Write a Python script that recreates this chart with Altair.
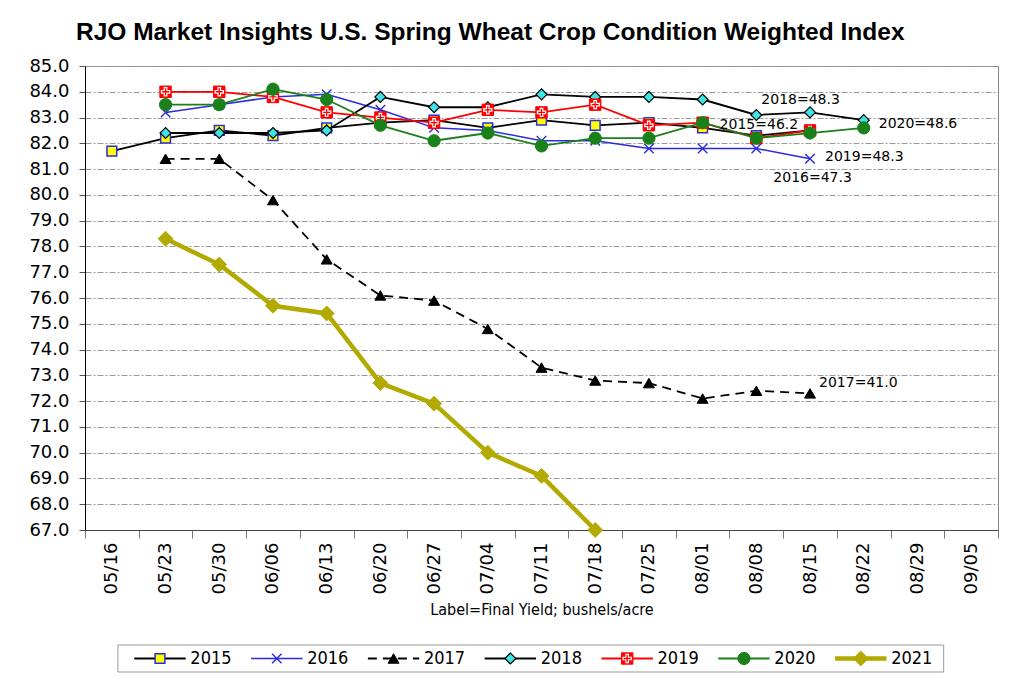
import altair as alt
import pandas as pd

# ---------------- data ----------------
dates = ["05/16", "05/23", "05/30", "06/06", "06/13", "06/20", "06/27", "07/04",
         "07/11", "07/18", "07/25", "08/01", "08/08", "08/15", "08/22", "08/29", "09/05"]

series_names = ["2015", "2016", "2017", "2018", "2019", "2020", "2021"]

y2015 = [81.7, 82.2, 82.5, 82.3, 82.6, 82.8, 82.9, 82.6, 82.9, 82.7, 82.8, 82.6, 82.3, 82.5]
y2016 = [None, 83.2, 83.5, 83.8, 83.9, 83.3, 82.6, 82.5, 82.1, 82.1, 81.8, 81.8, 81.8, 81.4]
y2017 = [None, 81.4, 81.4, 79.8, 77.5, 76.1, 75.9, 74.8, 73.3, 72.8, 72.7, 72.1, 72.4, 72.3]
y2018 = [None, 82.4, 82.4, 82.4, 82.5, 83.8, 83.4, 83.4, 83.9, 83.8, 83.8, 83.7, 83.1, 83.2, 82.9]
y2019 = [None, 84.0, 84.0, 83.8, 83.2, 83.0, 82.8, 83.3, 83.2, 83.5, 82.7, 82.8, 82.2, 82.5]
y2020 = [None, 83.5, 83.5, 84.1, 83.7, 82.7, 82.1, 82.4, 81.9, 82.2, 82.2, 82.8, 82.2, 82.4, 82.6]
y2021 = [None, 78.3, 77.3, 75.7, 75.4, 72.7, 71.9, 70.0, 69.1, 67.0]

ann_text = ["2018=48.3", "2015=46.2", "2020=48.6", "2019=48.3", "2016=47.3", "2017=41.0"]
ann_date = ["08/08", "08/01", "08/22", "08/15", "08/08", "08/15"]
ann_value = [83.68, 82.71, 82.75, 81.47, 80.66, 72.71]
ann_dx = [5, 17, 15, 15, 17, 9]

y_ticks = list(range(67, 86))

TITLE = "RJO Market Insights U.S. Spring Wheat Crop Condition Weighted Index"
X_TITLE = "Label=Final Yield; bushels/acre"

# ---------------- styles ----------------
BLUE = "#2B2BE0"
CYAN = "#3CE6E6"
RED = "#FF0000"
GREEN = "#1A801A"
OLIVE = "#B2AA00"
X_PATH = "M-1,-1L1,1M-1,1L1,-1"
PLUS_OUTLINE = "M-0.22,-0.72H0.22V-0.22H0.72V0.22H0.22V0.72H-0.22V0.22H-0.72V-0.22H-0.22Z"

styles = {
    "2015": dict(line=dict(color="black", strokeWidth=1.8),
                 pts=[dict(shape="square", size=95, filled=True, fill="#FFFF00", stroke=BLUE, strokeWidth=1.5)]),
    "2016": dict(line=dict(color=BLUE, strokeWidth=1.5),
                 pts=[dict(shape=X_PATH, size=90, filled=False, stroke=BLUE, strokeWidth=1.4)]),
    "2017": dict(line=dict(color="black", strokeWidth=1.8, strokeDash=[9, 6]),
                 pts=[dict(shape="triangle-up", size=120, filled=True, fill="black", stroke="black", strokeWidth=1)]),
    "2018": dict(line=dict(color="black", strokeWidth=1.8),
                 pts=[dict(shape="diamond", size=120, filled=True, fill=CYAN, stroke="black", strokeWidth=1.2)]),
    "2019": dict(line=dict(color=RED, strokeWidth=1.8),
                 pts=[dict(shape="square", size=130, filled=True, fill=RED, stroke=RED, strokeWidth=1),
                      dict(shape=PLUS_OUTLINE, size=130, filled=False, stroke="white", strokeWidth=1.2)]),
    "2020": dict(line=dict(color=GREEN, strokeWidth=1.8),
                 pts=[dict(shape="circle", size=150, filled=True, fill=GREEN, stroke=GREEN, strokeWidth=1)]),
    "2021": dict(line=dict(color=OLIVE, strokeWidth=4.5),
                 pts=[dict(shape="diamond", size=220, filled=True, fill=OLIVE, stroke=OLIVE, strokeWidth=1)]),
}

values_by_series = dict(zip(series_names, [y2015, y2016, y2017, y2018, y2019, y2020, y2021]))

AXIS_FONT = "DejaVu Sans"
COND_FONT = "DejaVu Sans Condensed, Liberation Sans Narrow, DejaVu Sans"

# ---------------- main chart ----------------
x_scale = alt.Scale(type="band", domain=dates, paddingInner=0, paddingOuter=0)
y_scale = alt.Scale(domain=[67, 85], nice=False, zero=False)

x_axis = alt.Axis(title=X_TITLE, tickBand="extent", labelAngle=270, labelFont=AXIS_FONT,
                  labelFontSize=18, labelColor="black", labelPadding=4, tickSize=8,
                  tickColor="#777", domainColor="#444", grid=False,
                  titleFont=COND_FONT, titleFontSize=16, titleFontWeight="normal",
                  titleColor="black", titlePadding=8)
y_axis = alt.Axis(title=None, values=y_ticks, format=".1f", labelFont=AXIS_FONT,
                  labelFontSize=18, labelColor="black", labelPadding=10, tickSize=6,
                  tickColor="#555", domainColor="black", grid=True, gridColor="#999",
                  gridDash=[6, 2, 2, 2], gridWidth=1)

def series_df(name, vals):
    rows = [{"date": dates[i], "idx": i, "value": v, "series": name}
            for i, v in enumerate(vals) if v is not None]
    return pd.DataFrame(rows)

layers = []
for name in series_names:
    df = series_df(name, values_by_series[name])
    base = alt.Chart(df).encode(
        x=alt.X("date:N", sort=dates, scale=x_scale, axis=x_axis),
        y=alt.Y("value:Q", scale=y_scale, axis=y_axis),
    )
    st = styles[name]
    layers.append(base.mark_line(**st["line"]).encode(order="idx:Q"))
    for p in st["pts"]:
        layers.append(base.mark_point(opacity=1, **p))

ann_df = pd.DataFrame({"date": ann_date, "value": ann_value, "label": ann_text})
for i in range(len(ann_text)):
    layers.append(
        alt.Chart(ann_df.iloc[[i]]).mark_text(
            align="left", baseline="middle", dx=ann_dx[i], font=AXIS_FONT,
            fontSize=14, color="black"
        ).encode(
            x=alt.X("date:N", sort=dates, scale=x_scale, axis=x_axis),
            y=alt.Y("value:Q", scale=y_scale, axis=y_axis),
            text="label:N",
        )
    )

top = alt.layer(*layers).properties(
    width=913, height=464,
    title=alt.TitleParams(TITLE, anchor="start", frame="group", dx=-9, fontSize=24.5,
                          font="Liberation Sans", fontWeight="bold", color="black", offset=12),
    view=alt.ViewBackground(stroke="#888"),
)

# ---------------- legend panel ----------------
lx = alt.Scale(domain=[-0.642, 7.175], nice=False, zero=False)
ly = alt.Scale(domain=[-1, 1], nice=False, zero=False)

box_df = pd.DataFrame({"x0": [-0.36], "x1": [6.71], "y0": [-1], "y1": [1]})
leg_layers = [
    alt.Chart(box_df).mark_rect(fill="white", stroke="#999", strokeWidth=1).encode(
        x=alt.X("x0:Q", scale=lx, axis=None), x2="x1:Q",
        y=alt.Y("y0:Q", scale=ly, axis=None), y2="y1:Q")
]
for i, name in enumerate(series_names):
    d = pd.DataFrame({"x": [i], "x0": [i - 0.22], "x1": [i + 0.22], "xt": [i + 0.26],
                      "y": [0], "label": [name]})
    b = alt.Chart(d)
    st = styles[name]
    line_kw = dict(st["line"])
    leg_layers.append(b.mark_rule(**line_kw).encode(
        x=alt.X("x0:Q", scale=lx, axis=None), x2="x1:Q",
        y=alt.Y("y:Q", scale=ly, axis=None)))
    for p in st["pts"]:
        leg_layers.append(b.mark_point(opacity=1, **p).encode(
            x=alt.X("x:Q", scale=lx, axis=None), y=alt.Y("y:Q", scale=ly, axis=None)))
    leg_layers.append(b.mark_text(align="left", baseline="middle", font=COND_FONT,
                                  fontSize=18, color="black").encode(
        x=alt.X("xt:Q", scale=lx, axis=None), y=alt.Y("y:Q", scale=ly, axis=None),
        text="label:N"))

legend = alt.layer(*leg_layers).properties(
    width=913, height=27, view=alt.ViewBackground(stroke="transparent"))

chart = alt.vconcat(top, legend, spacing=115, bounds="flush",
                    padding={"left": 20, "top": 11, "right": 5, "bottom": 5}
                    ).configure(background="white")

chart.save("out.html", embed_options={"renderer": "svg", "actions": False})
